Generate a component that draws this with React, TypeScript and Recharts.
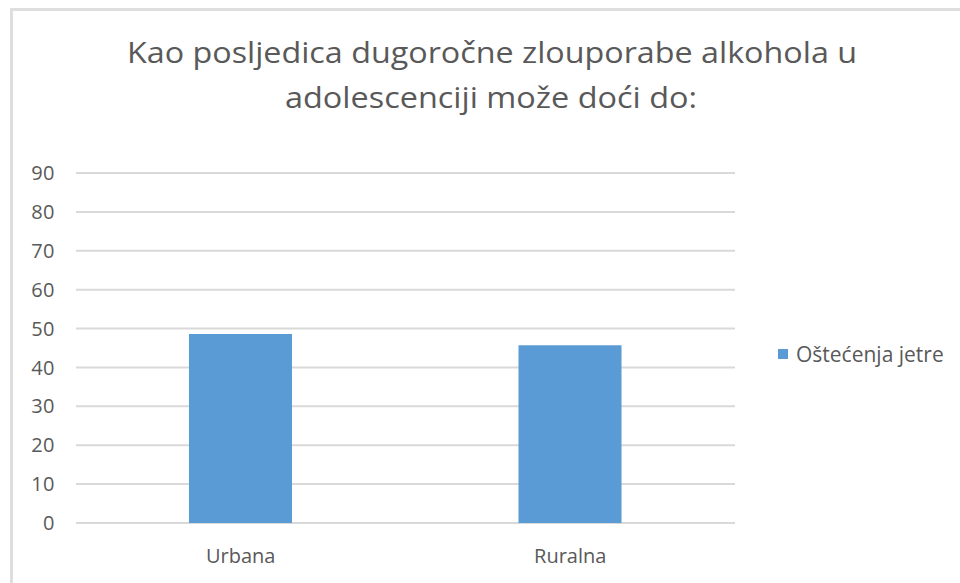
import React from 'react';
import { BarChart, Bar, XAxis, YAxis, CartesianGrid, Legend } from 'recharts';

const categories = ['Urbana', 'Ruralna'];
const seriesValues = [48.6, 45.7];
const seriesName = 'Oštećenja jetre';
const yTicks = [0, 10, 20, 30, 40, 50, 60, 70, 80, 90];
const titleLines = ['Kao posljedica dugoročne zlouporabe alkohola u', 'adolescenciji može doći do:'];

const data = categories.map((name, i) => ({ name, value: seriesValues[i] }));

const FONT = '"Open Sans", sans-serif';
const TEXT = '#595959';
const BLUE = '#5b9bd5';

const LegendBox = () => (
  <div style={{ display: 'flex', alignItems: 'center', fontFamily: FONT, fontSize: 21, color: TEXT, whiteSpace: 'nowrap' }}>
    <span style={{ width: 10, height: 10, background: BLUE, display: 'inline-block', marginRight: 8 }} />
    {seriesName}
  </div>
);

export default function App() {
  return (
    <div style={{ position: 'fixed', left: 0, top: 0, width: 960, height: 583, background: '#fff', overflow: 'hidden' }}>
      <div style={{ position: 'absolute', left: 10, top: 8, right: -4, bottom: -4, borderLeft: '3px solid #dedede', borderTop: '3px solid #dedede' }} />
      <svg width={960} height={130} style={{ position: 'absolute', left: 0, top: 0 }}>
        <text x={492} y={63} textAnchor="middle" fontFamily={FONT} fontSize={29} fill={TEXT}
          textLength={730} lengthAdjust="spacingAndGlyphs">{titleLines[0]}</text>
        <text x={491} y={108} textAnchor="middle" fontFamily={FONT} fontSize={29} fill={TEXT}
          textLength={412} lengthAdjust="spacingAndGlyphs">{titleLines[1]}</text>
      </svg>
      <div style={{ position: 'absolute', left: 0, top: 0 }}>
        <BarChart width={960} height={583} data={data} margin={{ top: 173, right: 225, bottom: 0, left: 0 }}>
          <CartesianGrid vertical={false} stroke="#d9d9d9" strokeWidth={2} />
          <XAxis dataKey="name" axisLine={false} tickLine={false} tickSize={0} tickMargin={26} height={60}
            tick={{ fill: TEXT, fontSize: 20, fontFamily: FONT }} />
          <YAxis domain={[0, 90]} ticks={yTicks} axisLine={false} tickLine={false} tickSize={0} tickMargin={21} width={76}
            interval={0} tick={{ fill: TEXT, fontSize: 20, fontFamily: FONT, letterSpacing: 0.5 }} />
          <Legend layout="horizontal" align="center" verticalAlign="middle" content={() => <LegendBox />}
            wrapperStyle={{ left: 778, top: 340, width: 180 }} />
          <Bar dataKey="value" name={seriesName} fill={BLUE} barSize={103} isAnimationActive={false} />
        </BarChart>
      </div>
    </div>
  );
}
